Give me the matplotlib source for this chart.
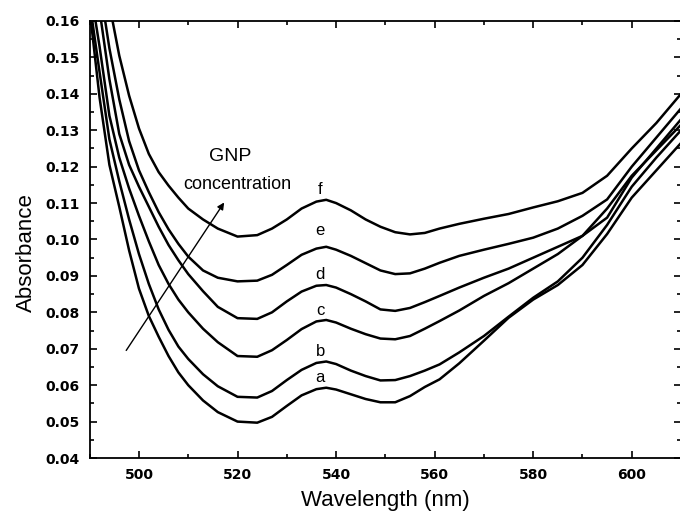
import matplotlib
matplotlib.use("Agg")
import matplotlib.pyplot as plt
from matplotlib.ticker import MultipleLocator

plt.rcParams['font.family'] = ['Liberation Sans', 'DejaVu Sans']

# wavelength grid (nm)
wl = [490, 492, 494, 496, 498, 500, 502, 504, 506, 508, 510, 513, 516, 520,
      524, 527, 530, 533, 536, 538, 540, 543, 546, 549, 552, 555, 558, 561,
      565, 570, 575, 580, 585, 590, 595, 600, 605, 610]

a = [0.163, 0.139, 0.1205, 0.1090, 0.0970, 0.0865, 0.0790, 0.0733, 0.0680, 0.0635,
     0.0600, 0.0558, 0.0526, 0.0500, 0.0497, 0.0513, 0.0543, 0.0572, 0.0589,
     0.0593, 0.0588, 0.0575, 0.0562, 0.0553, 0.0553, 0.0570, 0.0595, 0.0616,
     0.0660, 0.0722, 0.0785, 0.0835, 0.0875, 0.0930, 0.1015, 0.1115, 0.1190, 0.1265]
b = [0.165, 0.146, 0.1275, 0.1160, 0.1055, 0.0960, 0.0878, 0.0808, 0.0752, 0.0706,
     0.0672, 0.0630, 0.0597, 0.0568, 0.0566, 0.0584, 0.0614, 0.0642, 0.0661,
     0.0665, 0.0658, 0.0640, 0.0625, 0.0613, 0.0614, 0.0625, 0.0640, 0.0657,
     0.0690, 0.0735, 0.0788, 0.0840, 0.0885, 0.0950, 0.1040, 0.1145, 0.1225, 0.1300]
c = [0.170, 0.153, 0.1340, 0.1225, 0.1140, 0.1065, 0.0995, 0.0930, 0.0878, 0.0835,
     0.0800, 0.0755, 0.0718, 0.0680, 0.0678, 0.0696, 0.0724, 0.0754, 0.0775,
     0.0779, 0.0772, 0.0755, 0.0740, 0.0728, 0.0726, 0.0735, 0.0755, 0.0776,
     0.0805, 0.0845, 0.0880, 0.0920, 0.0960, 0.1010, 0.1085, 0.1175, 0.1245, 0.1315]
d = [0.178, 0.163, 0.1440, 0.1290, 0.1205, 0.1145, 0.1090, 0.1035, 0.0985, 0.0943,
     0.0905, 0.0858, 0.0815, 0.0784, 0.0782, 0.0800, 0.0830, 0.0857, 0.0873,
     0.0875, 0.0868, 0.0850, 0.0830, 0.0808, 0.0804, 0.0812, 0.0828, 0.0845,
     0.0868, 0.0895, 0.0920, 0.0950, 0.0980, 0.1010, 0.1060, 0.1170, 0.1250, 0.1330]
e = [0.188, 0.170, 0.1525, 0.1385, 0.1270, 0.1190, 0.1130, 0.1075, 0.1028, 0.0988,
     0.0953, 0.0915, 0.0895, 0.0885, 0.0887, 0.0903, 0.0930, 0.0958, 0.0975,
     0.0980, 0.0972, 0.0955, 0.0935, 0.0915, 0.0905, 0.0907, 0.0920, 0.0936,
     0.0955, 0.0972, 0.0988, 0.1005, 0.1030, 0.1065, 0.1110, 0.1200, 0.1280, 0.1360]
f = [0.205, 0.182, 0.1645, 0.1505, 0.1395, 0.1305, 0.1235, 0.1185, 0.1148, 0.1115,
     0.1085, 0.1055, 0.1030, 0.1008, 0.1012, 0.1030, 0.1055, 0.1085, 0.1104,
     0.1109, 0.1100, 0.1080, 0.1055, 0.1035, 0.1020, 0.1014, 0.1018, 0.1030,
     0.1043, 0.1057, 0.1070, 0.1088, 0.1105, 0.1128, 0.1175, 0.1250, 0.1320, 0.1400]

curves = [a, b, c, d, e, f]
names = ['a', 'b', 'c', 'd', 'e', 'f']
label_y = [0.0621, 0.0692, 0.0806, 0.0905, 0.1026, 0.1136]

fig = plt.figure(figsize=(6.8, 5.13), dpi=100)
ax = fig.add_axes([0.1319, 0.1072, 0.8696, 0.8519])

for ys in curves:
    ax.plot(wl, ys, color='black', lw=1.8)

for n, yy in zip(names, label_y):
    ax.text(536.8, yy, n, fontsize=12, ha='center', va='center')

ax.annotate('', xy=(517.6, 0.1108), xytext=(497.1, 0.0689),
            arrowprops=dict(arrowstyle='-|>', color='black', lw=1.0,
                            mutation_scale=10))
ax.text(518.6, 0.1227, 'GNP', fontsize=14, ha='center', va='center')
ax.text(520.0, 0.1150, 'concentration', fontsize=13, ha='center', va='center')

ax.set_xlim(490, 610)
ax.set_ylim(0.04, 0.16)
ax.xaxis.set_major_locator(MultipleLocator(20))
ax.xaxis.set_minor_locator(MultipleLocator(10))
ax.yaxis.set_major_locator(MultipleLocator(0.01))
ax.yaxis.set_minor_locator(MultipleLocator(0.005))
ax.tick_params(which='both', direction='in', top=True, right=True, width=1.2)
ax.tick_params(which='major', length=5, pad=7)
ax.tick_params(which='minor', length=3)
for lab in ax.get_xticklabels():
    lab.set_family('DejaVu Sans')
    lab.set_fontweight('bold')
    lab.set_fontsize(10)
ax.set_yticks(ax.get_yticks())
ax.set_yticklabels(['%.2f' % v for v in ax.get_yticks()], family='DejaVu Sans',
                   fontweight='bold', fontsize=10)
ax.set_ylim(0.04, 0.16)
for sp in ax.spines.values():
    sp.set_linewidth(1.3)

ax.set_xlabel('Wavelength (nm)', fontsize=16, labelpad=6)
ax.set_ylabel('Absorbance', fontsize=16)
ax.yaxis.set_label_coords(-0.09, 0.47)

fig.savefig('out.png', dpi=100)
